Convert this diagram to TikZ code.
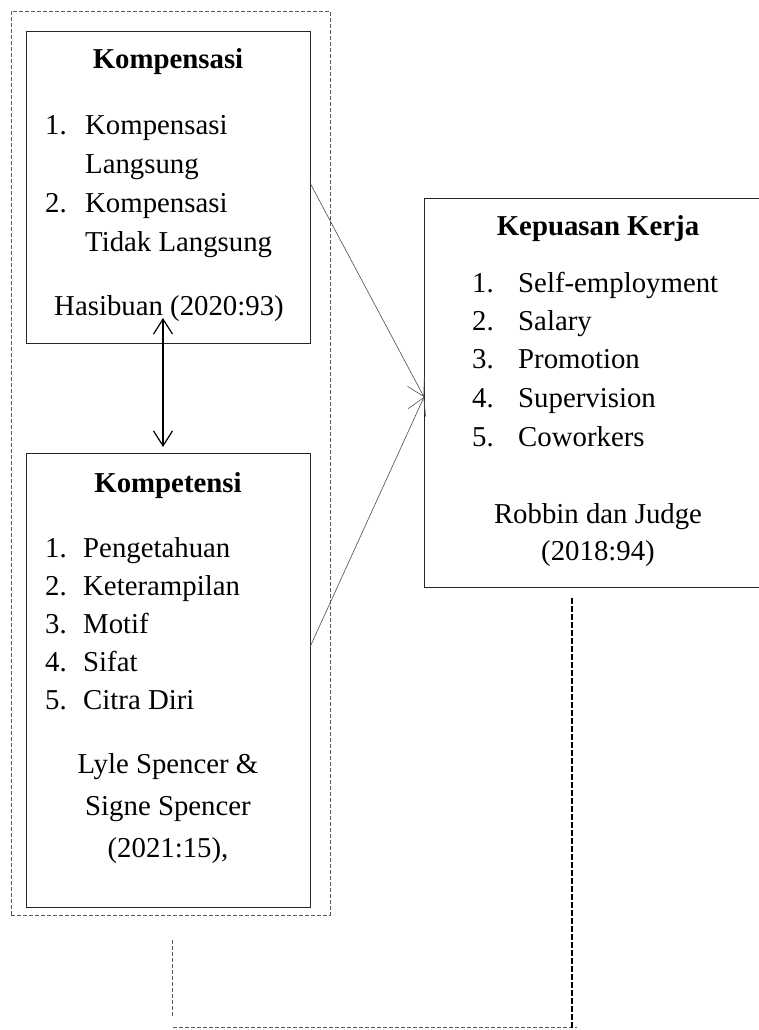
\documentclass[tikz,border=0pt]{standalone}
\usepackage{fontspec}
\setmainfont{Liberation Serif}
\usetikzlibrary{arrows.meta}
\begin{document}
\begin{tikzpicture}[x=1pt,y=-1pt,
  box/.style={draw=black!85, line width=0.9pt, inner sep=0pt, fill=none},
  txt/.style={inner sep=0pt, font=\fontsize{28.8}{34}\selectfont},
  ttl/.style={inner sep=0pt, font=\fontsize{28.8}{34}\selectfont\bfseries, anchor=base},
  itm/.style={txt, anchor=base west},
  cen/.style={txt, anchor=base},
  conn/.style={draw=black!70, line width=0.6pt, -{Straight Barb[length=16.5pt,width=19pt]}},
  dbl/.style={draw=black, line width=1.2pt, {Straight Barb[length=15pt,width=19pt]}-{Straight Barb[length=15pt,width=19pt]}},
  graydash/.style={draw=black!65, line width=0.8pt, dash pattern=on 4pt off 2pt},
  darkdash/.style={draw=black, line width=1.6pt, dash pattern=on 6pt off 2pt}
]
\useasboundingbox (0,0) rectangle (759,1030);
\clip (0,0) rectangle (759,1030);

% outer dashed group
\node[graydash, inner sep=0pt, minimum width=319pt, minimum height=904pt] (grp) at (170.5,463) {};

% Kompensasi box
\node[box, minimum width=284pt, minimum height=312pt] (komp) at (168,187) {};
\node[ttl] (kompT) at (168,69) {Kompensasi};
\node[itm] (k1n) at (45,135) {1.};
\node[itm] (k1) at (85,135) {Kompensasi};
\node[itm] (k1b) at (85,173) {Langsung};
\node[itm] (k2n) at (45,212) {2.};
\node[itm] (k2) at (85,212) {Kompensasi};
\node[itm] (k2b) at (85,251) {Tidak Langsung};
\node[cen] (kref) at (169,315) {Hasibuan (2020:93)};

% Kompetensi box
\node[box, minimum width=284pt, minimum height=454pt] (kompt) at (168,680) {};
\node[ttl] (kompetT) at (168,492) {Kompetensi};
\node[itm] (c1n) at (45,557) {1.};
\node[itm] (c1) at (83,557) {Pengetahuan};
\node[itm] (c2n) at (45,595) {2.};
\node[itm] (c2) at (83,595) {Keterampilan};
\node[itm] (c3n) at (45,633) {3.};
\node[itm] (c3) at (83,633) {Motif};
\node[itm] (c4n) at (45,671) {4.};
\node[itm] (c4) at (83,671) {Sifat};
\node[itm] (c5n) at (45,709) {5.};
\node[itm] (c5) at (83,709) {Citra Diri};
\node[cen] (cr1) at (168,773) {Lyle Spencer \&};
\node[cen] (cr2) at (168,815) {Signe Spencer};
\node[cen] (cr3) at (168,857) {(2021:15),};

% Kepuasan Kerja box
\node[box, minimum width=351pt, minimum height=389pt] (kep) at (599.5,392.5) {};
\node[ttl] (kepT) at (598,235) {Kepuasan Kerja};
\node[itm] (p1n) at (472,292) {1.};
\node[itm] (p1) at (518,292) {Self-employment};
\node[itm] (p2n) at (472,330) {2.};
\node[itm] (p2) at (518,330) {Salary};
\node[itm] (p3n) at (472,368) {3.};
\node[itm] (p3) at (518,368) {Promotion};
\node[itm] (p4n) at (472,407) {4.};
\node[itm] (p4) at (518,407) {Supervision};
\node[itm] (p5n) at (472,446) {5.};
\node[itm] (p5) at (518,446) {Coworkers};
\node[cen] (pr1) at (598,523) {Robbin dan Judge};
\node[cen] (pr2) at (598,560) {(2018:94)};

% connector anchor points
\coordinate (kompOut) at (310,183);
\coordinate (kompetOut) at (310,647);
\coordinate (kepIn) at (424,397);
\coordinate (dblTop) at (163,318);
\coordinate (dblBot) at (163,447);

\draw[conn] (kompOut) -- (kepIn);
\draw[conn] (kompetOut) -- (kepIn);
\draw[dbl] (dblTop) -- (dblBot);

% bottom dashed lines
\coordinate (bl1) at (172,940);
\coordinate (bl2) at (172,1017);
\coordinate (bh1) at (173,1027);
\coordinate (bh2) at (577,1027);
\coordinate (br1) at (572,598);
\coordinate (br2) at (572,1031);
\draw[graydash] (bl1) -- (bl2);
\draw[graydash] (bh1) -- (bh2);
\draw[darkdash] (br1) -- (br2);
\end{tikzpicture}
\end{document}
